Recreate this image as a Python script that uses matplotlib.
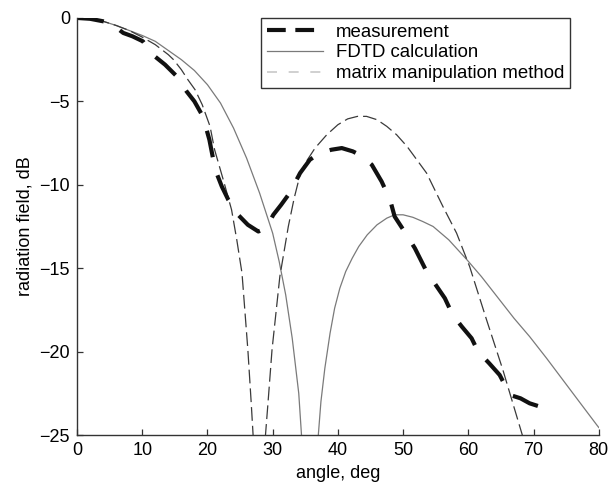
import matplotlib
matplotlib.use("Agg")
import matplotlib.pyplot as plt
from matplotlib.lines import Line2D

plt.rcParams["font.family"] = ["Liberation Sans", "DejaVu Sans"]

# measured pattern (thick dashed black)
meas_x = [0, 2, 4, 5.1, 7.1, 8.5, 10.1, 11.6, 13.5, 15.3, 16.8, 18, 19.3, 20.3, 21.2, 22.2,
          23.2, 24.7, 26.2, 27.8, 29, 30.1, 31.3, 32.6, 34.2, 35.7, 37.2, 39, 40.6, 42.3,
          43.8, 45.2, 46.7, 48, 48.7, 50.2, 51.8, 53.6, 55, 56.4, 57.6, 59, 60.5, 61.5, 63.2,
          64.8, 66.4, 68, 69.4, 71, 73.0]
meas_y = [0, -0.05, -0.2, -0.3, -0.9, -1.1, -1.4, -2.2, -2.8, -3.5, -4.4, -5.0, -5.9, -7.3,
          -9.1, -10.1, -10.9, -11.8, -12.4, -12.8, -12.6, -11.8, -11.2, -10.5, -9.3, -8.5,
          -8.1, -7.9, -7.8, -8.0, -8.3, -8.8, -9.8, -10.9, -11.9, -12.8, -13.8, -15.2,
          -16.0, -16.8, -17.8, -18.5, -19.2, -20.0, -20.7, -21.4, -22.6, -22.8, -23.1,
          -23.3, -23.6]

# FDTD calculation (thin gray solid)
fdtd_x = [0, 2, 4, 6, 8, 10, 12, 14, 16, 18, 20, 22, 24, 26, 28, 30, 31, 32, 33, 34, 35.6,
          37.4, 38.0, 38.8, 39.5, 40.3, 41.2, 42.2, 43.2, 44.5, 46, 47.5, 48.7, 50, 51.5,
          53, 54.6, 57, 59.8, 62, 64.8, 67, 69.4, 72, 74.5, 77, 79.7, 80]
fdtd_y = [0, -0.05, -0.2, -0.45, -0.75, -1.05, -1.4, -1.95, -2.5, -3.15, -4.0, -5.1, -6.6,
          -8.4, -10.5, -12.9, -14.6, -16.6, -19.2, -22.5, -32, -23.0, -21.0, -18.9, -17.4,
          -16.2, -15.2, -14.4, -13.7, -13.0, -12.4, -12.0, -11.8, -11.8, -11.95, -12.2,
          -12.5, -13.3, -14.5, -15.5, -16.9, -18.0, -19.1, -20.4, -21.7, -23.0, -24.4,
          -24.55]

# matrix manipulation method (thin dark dashed)
mm_x = [0, 2, 4, 6, 8, 10, 12, 14, 14.8, 16, 17, 18.1, 19.2, 20.4, 21.1, 22.5, 23.7, 24.5,
        25.3, 26.2, 26.7, 27.0, 27.9, 28.9, 29.3, 29.9, 31.1, 32.4, 33.3, 34.2, 35, 36.5,
        38.3, 40, 41.5, 43, 44.4, 46, 47.5, 49, 50.6, 53.6, 56.1, 58.2, 60.2, 62.8, 65.3,
        68.2, 68.5]
mm_y = [0, -0.05, -0.2, -0.45, -0.75, -1.15, -1.6, -2.2, -2.5, -3.1, -3.7, -4.3, -5.2, -6.5,
        -7.9, -9.8, -11.5, -13.3, -15.3, -19.9, -23, -25, -40, -25, -23, -19.9, -15.5,
        -12.5, -10.8, -9.4, -8.7, -7.8, -7.0, -6.4, -6.05, -5.9, -5.9, -6.1, -6.5, -7.0,
        -7.7, -9.3, -11.3, -12.9, -14.9, -18.1, -21.1, -24.9, -25.3]

xticks = [0, 10, 20, 30, 40, 50, 60, 70, 80]
yticks = [0, -5, -10, -15, -20, -25]

fig = plt.figure(figsize=(6.11, 4.93), dpi=100)
ax = fig.add_axes([0.126, 0.1176, 0.854, 0.846])

ax.plot(fdtd_x, fdtd_y, color="#7a7a7a", lw=0.9)
ax.plot(mm_x, mm_y, color="#3a3a3a", lw=0.9, dashes=(11, 4))
ax.plot(meas_x, meas_y, color="#111111", lw=3.0, dashes=(6.5, 4.5), solid_capstyle="butt")

ax.set_xlim(0, 80)
ax.set_ylim(-25, 0)
ax.set_xticks(xticks)
ax.set_yticks(yticks)
ax.set_yticklabels([str(t).replace("-", "\u2212") for t in yticks])
ax.tick_params(direction="in", length=4, width=0.9, labelsize=13, color="#333333", pad=5)
for s in ("top", "right"):
    ax.spines[s].set_visible(False)
for s in ("left", "bottom"):
    ax.spines[s].set_color("#333333")
    ax.spines[s].set_linewidth(1.0)
ax.set_xlabel("angle, deg", fontsize=13, labelpad=4)
ax.set_ylabel("radiation field, dB", fontsize=13, labelpad=4)

handles = [
    Line2D([], [], color="#111111", lw=3.0, dashes=(4.5, 2.3)),
    Line2D([], [], color="#7a7a7a", lw=0.9),
    Line2D([], [], color="#c8c8c8", lw=1.2, dashes=(6, 7)),
]
labels = ["measurement", "FDTD calculation", "matrix manipulation method"]
leg = ax.legend(handles, labels, loc="upper right", bbox_to_anchor=((570 - 77) / 522, 1.0),
                fontsize=13.4, handlelength=3.0, handletextpad=0.7, labelspacing=0.2,
                borderpad=0.3, borderaxespad=0, fancybox=False, framealpha=1)
leg.get_frame().set_edgecolor("#333333")
leg.get_frame().set_linewidth(1.0)

fig.savefig("out.png", dpi=100)
